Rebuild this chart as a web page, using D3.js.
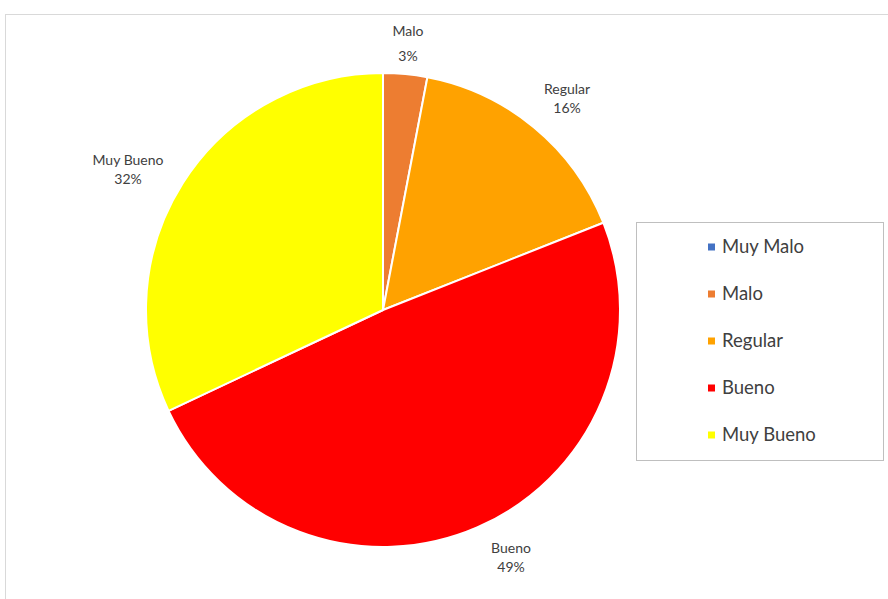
<!DOCTYPE html>
<html>
<head>
<meta charset="utf-8">
<script src="https://cdn.jsdelivr.net/npm/d3@7"></script>
<style>
  html, body { margin: 0; padding: 0; background: #fff; }
  svg { display: block; font-family: Lato, "Open Sans", sans-serif; }
</style>
</head>
<body>
<svg id="chart" width="888" height="599"></svg>
<script>
// Rating categories and their share of responses (%)
const categories = ["Muy Malo", "Malo", "Regular", "Bueno", "Muy Bueno"];
const values = [0, 3, 16, 49, 32];
const colors = ["#4472c4", "#ed7d31", "#ffa200", "#ff0000", "#ffff00"];
const pctLabels = ["0%", "3%", "16%", "49%", "32%"];

const data = categories.map((c, i) => ({ name: c, value: values[i], color: colors[i], pct: pctLabels[i] }));

const svg = d3.select("#chart");

// chart area frame
svg.append("rect")
  .attr("x", 5.5).attr("y", 14.5)
  .attr("width", 900).attr("height", 600)
  .attr("fill", "#fff").attr("stroke", "#d9d9d9").attr("stroke-width", 1);

const cx = 383, cy = 310, radius = 237;

const pie = d3.pie().sort(null).value(d => d.value);
const arc = d3.arc().innerRadius(0).outerRadius(radius);
const arcs = pie(data);

const g = svg.append("g").attr("transform", `translate(${cx},${cy})`);

g.selectAll("path")
  .data(arcs.filter(a => a.data.value > 0))
  .join("path")
  .attr("d", arc)
  .attr("fill", d => d.data.color)
  .attr("stroke", "#fff")
  .attr("stroke-width", 2)
  .attr("stroke-linejoin", "round");

// data label anchor points: [x, name y, percent y]
const labelPos = {
  "Malo": [408, 31, 56],
  "Regular": [567, 89, 108],
  "Bueno": [511, 548, 567],
  "Muy Bueno": [128, 160, 179]
};

const lbl = svg.append("g")
  .attr("fill", "#404040")
  .attr("font-size", 14)
  .attr("text-anchor", "middle");

arcs.filter(a => a.data.value > 0).forEach(a => {
  const p = labelPos[a.data.name];
  lbl.append("text").attr("x", p[0]).attr("y", p[1]).attr("dy", "0.35em").text(a.data.name);
  lbl.append("text").attr("x", p[0]).attr("y", p[2]).attr("dy", "0.35em").text(a.data.pct);
});

// legend
const legend = svg.append("g");
legend.append("rect")
  .attr("x", 636.5).attr("y", 222.5)
  .attr("width", 247).attr("height", 238)
  .attr("fill", "#fff").attr("stroke", "#bfbfbf").attr("stroke-width", 1);

const ly = d3.scalePoint().domain(categories).range([247, 435]);

const item = legend.selectAll("g.item")
  .data(data)
  .join("g")
  .attr("class", "item")
  .attr("transform", d => `translate(708,${ly(d.name)})`);

item.append("rect")
  .attr("x", 0).attr("y", -3.5)
  .attr("width", 7).attr("height", 7)
  .attr("fill", d => d.color);

item.append("text")
  .attr("x", 14).attr("y", 0).attr("dy", "0.35em")
  .attr("font-size", 18.5)
  .attr("fill", "#404040")
  .text(d => d.name);
</script>
</body>
</html>
